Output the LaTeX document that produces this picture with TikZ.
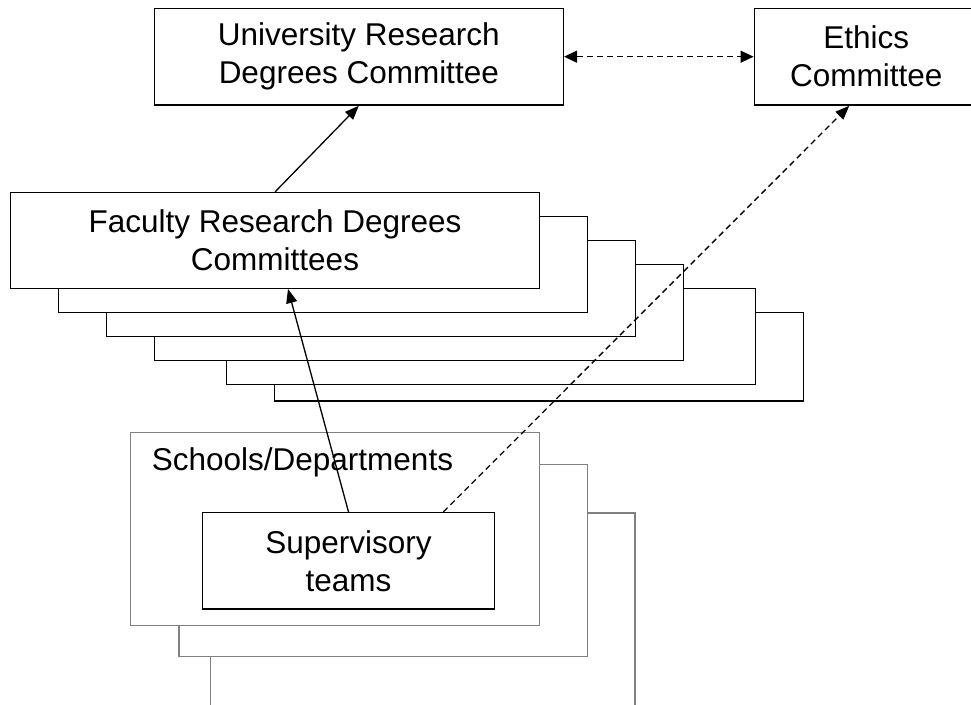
\documentclass[tikz,border=0pt]{standalone}
\usepackage{fontspec}
\setmainfont{Liberation Sans}
\usetikzlibrary{arrows.meta,calc}

\tikzset{
  box/.style={draw,line width=1.5pt,fill=white,inner sep=0pt,align=center},
  sheet/.style={draw,line width=1.5pt,fill=white},
  deptsheet/.style={draw=gray,line width=1.5pt,fill=white},
  link/.style={line width=1.3pt,-{Triangle[length=14pt,width=11pt]}},
  dlink/.style={link,dash pattern=on 6pt off 4pt}
}

\begin{document}
\begin{tikzpicture}[x=1pt,y=-1pt]\fontsize{31.5}{38}\selectfont
\useasboundingbox (0,0) rectangle (971,704);
\clip (0,0) rectangle (971,704);

% top committees
\node[box,minimum width=409pt,minimum height=96.7pt] (uni) at (358.8,56.7) {University Research\\Degrees Committee};
\node[box,minimum width=224pt,minimum height=96.7pt] (ethics) at (866.3,56.7) {Ethics\\Committee};
\draw[dlink,{Triangle[length=13pt,width=12pt]}-{Triangle[length=13pt,width=12pt]}] (uni) -- (ethics);

% faculty committees, back to front
\foreach \dx/\dy/\h in {264/120/88.3,216/96/95.6,144/72/96,96/48/96,48/24/96}
  \draw[sheet] (10.7+\dx,192.7+\dy) rectangle ++(528.6,\h);
\node[box,minimum width=528.6pt,minimum height=95.6pt] (fac) at (275,240.5) {Faculty Research Degrees\\Committees};

% schools
\draw[deptsheet] (210.7,513) rectangle (635,720);
\draw[deptsheet] (179,464.7) rectangle (587.3,656.7);
\node[deptsheet,minimum width=408.6pt,minimum height=193pt] (school) at (335,529.2) {};
\node[anchor=west,inner sep=0pt] (schooltext) at (151.7,462) {Schools/Departments};
\node[box,minimum width=291.6pt,minimum height=96.3pt] (sup) at (348.5,560.8) {Supervisory\\teams};

\draw[link] (fac.north) -- (uni.south);
\draw[link] (sup.north) -- ($(fac.south)+(13,0)$);
\draw[dlink] ($(sup.north)+(94.8,0)$) -- ($(ethics.south west)+(95.7,0)$);
\end{tikzpicture}
\end{document}
